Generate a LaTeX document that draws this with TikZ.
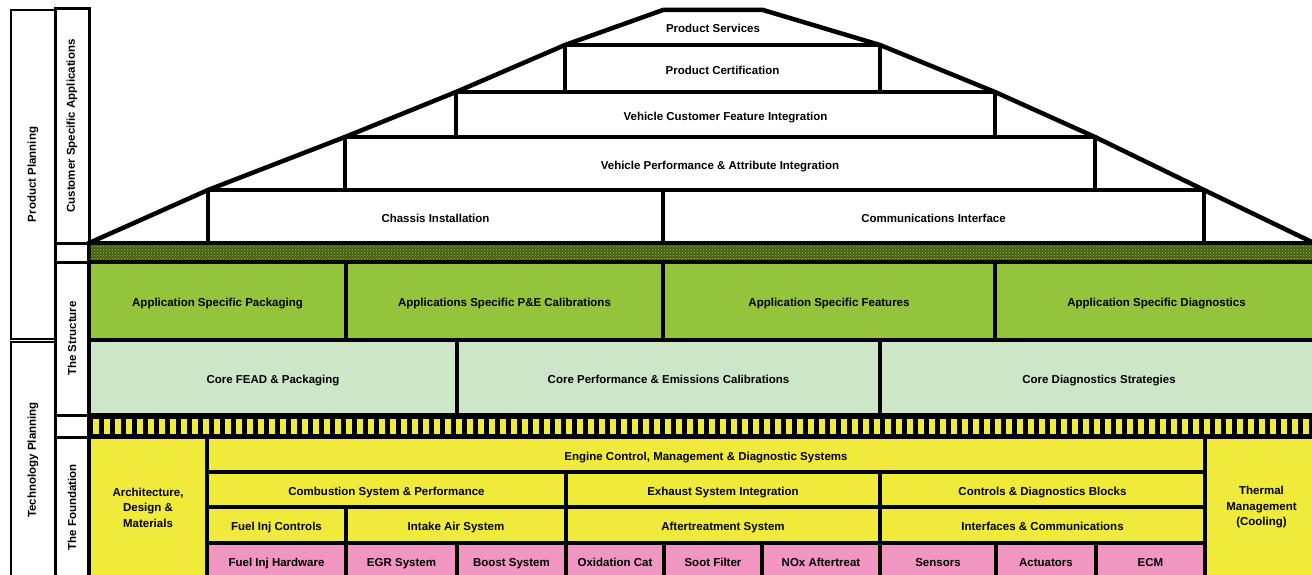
\documentclass[tikz,border=0pt]{standalone}
\usepackage{fontspec}
\setmainfont{Liberation Sans}
\usetikzlibrary{patterns}
\definecolor{AppGreen}{RGB}{148,196,60}
\definecolor{CoreGreen}{RGB}{205,230,200}
\definecolor{BaseYellow}{RGB}{240,235,58}
\definecolor{PartPink}{RGB}{240,150,192}
\definecolor{BandOlive}{RGB}{70,94,26}

\begin{document}
\begin{tikzpicture}[x=1pt,y=-1pt,
cell/.style={rectangle,draw=black,line width=4.5pt,anchor=north west,inner sep=0pt,outer sep=0pt,
align=center,font=\fontsize{11.5}{15.5}\selectfont\bfseries},
onerow/.style={text height=11.5pt,text depth=0pt},
roofbox/.style={cell,onerow,fill=white},
appbox/.style={cell,onerow,fill=AppGreen},
corebox/.style={cell,onerow,fill=CoreGreen},
basebox/.style={cell,fill=BaseYellow},
rowbox/.style={basebox,onerow},
partbox/.style={cell,onerow,fill=PartPink,minimum height=35},
planbox/.style={rectangle,draw=black,line width=1.5pt,fill=white,inner sep=0pt,outer sep=0pt,
rotate=90,minimum height=44,font=\fontsize{11.5}{15.5}\selectfont\bfseries},
sidebox/.style={planbox,line width=3pt,minimum height=34},
rooftext/.style={font=\fontsize{11.5}{15.5}\selectfont\bfseries},
roofline/.style={line width=4.5pt,line join=miter}
]
\path[use as bounding box] (0,0) rectangle (1312,575);
\clip (0,0) rectangle (1312,575);

% left columns
\node[planbox,minimum width=329] (prodplan) at (33,174.5) {Product Planning};
\node[planbox,minimum width=236] (techplan) at (33,460) {Technology Planning};
\node[sidebox,minimum width=234] (custapp) at (72,126) {Customer Specific Applications};
\node[sidebox,minimum width=153] (structure) at (72,338.5) {The Structure};
\node[sidebox,minimum width=141] (foundation) at (72,507.5) {The Foundation};
\draw[line width=3pt,fill=white] (55,243) rectangle (89,262);
\draw[line width=3pt,fill=white] (55,415) rectangle (89,437);

% roof
\node[rooftext] (services) at (713,28) {Product Services};
\node[roofbox,minimum width=315,minimum height=47] (cert) at (565,45) {Product Certification};
\node[roofbox,minimum width=539,minimum height=45] (custfeat) at (456,92) {Vehicle Customer Feature Integration};
\node[roofbox,minimum width=750,minimum height=53] (vehperf) at (345,137) {Vehicle Performance \& Attribute Integration};
\node[roofbox,minimum width=455,minimum height=53] (chassis) at (208,190) {Chassis Installation};
\node[roofbox,minimum width=541,minimum height=53] (comms) at (663,190) {Communications Interface};

% dotted band
\node[cell,fill=BandOlive,minimum width=1229,minimum height=19] (dotband) at (89,243) {};
\fill[pattern=crosshatch dots,pattern color=AppGreen] (89,245.3) rectangle (1318,259.7);

\draw[roofline] (dotband.north west) -- (chassis.north west) -- (vehperf.north west)
  -- (custfeat.north west) -- (cert.north west) -- (663,10) -- (763,10) -- (cert.north east)
  -- (custfeat.north east) -- (vehperf.north east) -- (comms.north east) -- (1318,245);

% the structure
\node[appbox,minimum width=257,minimum height=78] (apppack) at (89,262) {Application Specific Packaging};
\node[appbox,minimum width=317,minimum height=78] (appcal) at (346,262) {Applications Specific P\&E Calibrations};
\node[appbox,minimum width=332,minimum height=78] (appfeat) at (663,262) {Application Specific Features};
\node[appbox,minimum width=323,minimum height=78] (appdiag) at (995,262) {Application Specific Diagnostics};
\node[corebox,minimum width=368,minimum height=75] (corefead) at (89,340) {Core FEAD \& Packaging};
\node[corebox,minimum width=423,minimum height=75] (coreperf) at (457,340) {Core Performance \& Emissions Calibrations};
\node[corebox,minimum width=438,minimum height=75] (corediag) at (880,340) {Core Diagnostics Strategies};

% striped band
\node[cell,fill=black,minimum width=1229,minimum height=22] (stripeband) at (89,415) {};
\foreach \k in {0,...,111}
  \fill[BaseYellow] ({93+11*\k},419) rectangle ++(6,15);

% the foundation
\node[basebox,minimum width=118,minimum height=141] (arch) at (89,437) {Architecture,\\Design \&\\Materials};
\node[basebox,minimum width=113,minimum height=141] (thermal) at (1205,437) {Thermal\\Management\\(Cooling)};
\node[rowbox,minimum width=998,minimum height=35] (engctl) at (207,437) {Engine Control, Management \& Diagnostic Systems};
\node[rowbox,minimum width=359,minimum height=35] (combust) at (207,472) {Combustion System \& Performance};
\node[rowbox,minimum width=314,minimum height=35] (exhaust) at (566,472) {Exhaust System Integration};
\node[rowbox,minimum width=325,minimum height=35] (ctrldiag) at (880,472) {Controls \& Diagnostics Blocks};
\node[rowbox,minimum width=139,minimum height=36] (fuelctl) at (207,507) {Fuel Inj Controls};
\node[rowbox,minimum width=220,minimum height=36] (intake) at (346,507) {Intake Air System};
\node[rowbox,minimum width=314,minimum height=36] (aftertreat) at (566,507) {Aftertreatment System};
\node[rowbox,minimum width=325,minimum height=36] (interfaces) at (880,507) {Interfaces \& Communications};
\node[partbox,minimum width=139] (fuelhw) at (207,543) {Fuel Inj Hardware};
\node[partbox,minimum width=111] (egr) at (346,543) {EGR System};
\node[partbox,minimum width=109] (boost) at (457,543) {Boost System};
\node[partbox,minimum width=98] (oxcat) at (566,543) {Oxidation Cat};
\node[partbox,minimum width=98] (soot) at (664,543) {Soot Filter};
\node[partbox,minimum width=118] (nox) at (762,543) {NOx Aftertreat};
\node[partbox,minimum width=116] (sensors) at (880,543) {Sensors};
\node[partbox,minimum width=100] (actuators) at (996,543) {Actuators};
\node[partbox,minimum width=109] (ecm) at (1096,543) {ECM};
\end{tikzpicture}
\end{document}
